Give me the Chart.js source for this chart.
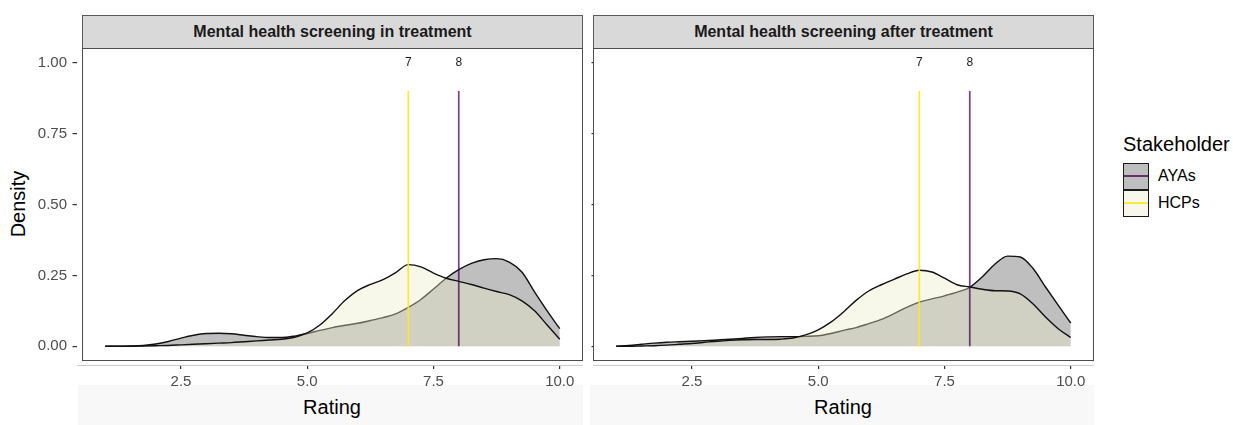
<!DOCTYPE html>
<html>
<head>
<meta charset="utf-8">
<script src="https://cdn.jsdelivr.net/npm/chart.js@4.4.1/dist/chart.umd.min.js"></script>
<style>
  body { margin: 0; background: #fff; font-family: "Liberation Sans", Arial, sans-serif; }
  #wrap { position: relative; width: 1233px; height: 425px; overflow: hidden; }
  .abs { position: absolute; }
  .band { background: #f8f8f8; top: 385px; height: 40px; }
  .strip { top: 15px; height: 34px; width: 501px; box-sizing: border-box; background: #d9d9d9;
           border: 1px solid #595959; font-weight: bold; font-size: 16px; color: #1a1a1a;
           text-align: center; line-height: 32px; }
  .panel { top: 48px; height: 313px; width: 501px; box-sizing: border-box; border: 1px solid #4d4d4d;
           pointer-events: none; z-index: 3; }
  .title { font-size: 20px; color: #000; white-space: nowrap; }
  canvas { position: absolute; top: 0; z-index: 2; }
  .key { left: 1123px; width: 26px; height: 27px; box-sizing: border-box; border: 1.5px solid #1a1a1a; }
  .key i { position: absolute; left: 0; right: 0; top: 11px; height: 2px; }
  .lab { left: 1158px; font-size: 16px; color: #000; }
</style>
</head>
<body>
<div id="wrap">
  <div class="abs band" style="left:78px;width:505px"></div>
  <div class="abs band" style="left:590px;width:504px"></div>

  <div class="abs strip" style="left:82px">Mental health screening in treatment</div>
  <div class="abs strip" style="left:593px">Mental health screening after treatment</div>

  <canvas id="chartIn" width="590" height="425" style="left:0"></canvas>
  <canvas id="chartAfter" width="540" height="425" style="left:560px"></canvas>

  <div class="abs panel" style="left:82px"></div>
  <div class="abs panel" style="left:593px"></div>

  <div class="abs title" style="left:332px;top:407px;transform:translate(-50%,-50%)">Rating</div>
  <div class="abs title" style="left:843px;top:407px;transform:translate(-50%,-50%)">Rating</div>
  <div class="abs title" style="left:18px;top:204px;transform:translate(-50%,-50%) rotate(-90deg)">Density</div>

  <div class="abs title" style="left:1123px;top:133px">Stakeholder</div>
  <div class="abs key" style="top:163px;background:#bebebe"><i style="background:rgba(68,1,84,0.75)"></i></div>
  <div class="abs key" style="top:190px;background:#f8f8ea"><i style="background:rgba(253,231,37,0.9)"></i></div>
  <div class="abs lab" style="top:167px">AYAs</div>
  <div class="abs lab" style="top:194px">HCPs</div>
</div>

<script>
// rating grid the densities are read on
const ratingGrid = [1, 1.25, 1.5, 1.75, 2, 2.25, 2.5, 2.75, 3, 3.25, 3.5, 3.75, 4, 4.25, 4.5, 4.75,
  5, 5.25, 5.5, 5.75, 6, 6.25, 6.5, 6.75, 7, 7.25, 7.5, 7.75, 8, 8.25, 8.5, 8.75, 9, 9.25, 9.5, 9.75, 10];

// densities, screening in treatment
const inTreatmentAYAs = [0, 0, 0.001, 0.003, 0.008, 0.017, 0.029, 0.039, 0.045, 0.046, 0.044, 0.039, 0.034,
  0.031, 0.031, 0.036, 0.045, 0.056, 0.066, 0.074, 0.081, 0.091, 0.101, 0.114, 0.137, 0.165, 0.202, 0.240,
  0.270, 0.292, 0.305, 0.309, 0.297, 0.262, 0.192, 0.125, 0.062];
const inTreatmentHCPs = [0, 0, 0, 0.001, 0.002, 0.003, 0.005, 0.007, 0.009, 0.011, 0.013, 0.016, 0.019,
  0.022, 0.025, 0.032, 0.047, 0.075, 0.116, 0.162, 0.197, 0.218, 0.235, 0.260, 0.288, 0.280, 0.258, 0.240,
  0.229, 0.218, 0.205, 0.193, 0.182, 0.160, 0.125, 0.075, 0.025];

// densities, screening after treatment
const afterTreatmentAYAs = [0, 0.003, 0.007, 0.011, 0.014, 0.016, 0.018, 0.020, 0.022, 0.025, 0.028, 0.031,
  0.033, 0.034, 0.034, 0.035, 0.037, 0.045, 0.056, 0.066, 0.080, 0.095, 0.115, 0.137, 0.156, 0.167, 0.178,
  0.191, 0.208, 0.245, 0.290, 0.318, 0.315, 0.275, 0.209, 0.145, 0.082];
const afterTreatmentHCPs = [0, 0, 0.001, 0.002, 0.004, 0.007, 0.010, 0.014, 0.018, 0.021, 0.023, 0.024,
  0.024, 0.025, 0.029, 0.040, 0.058, 0.085, 0.121, 0.162, 0.195, 0.217, 0.236, 0.255, 0.268, 0.262, 0.240,
  0.217, 0.209, 0.201, 0.196, 0.195, 0.185, 0.150, 0.103, 0.062, 0.031];

// median ratings drawn as vertical lines
const medianAYAs = 8;
const medianHCPs = 7;
const medianLineTop = 0.9;
const medianLabelAt = 1.0;

const xTicks = [2.5, 5, 7.5, 10];
const yTicks = [0, 0.25, 0.5, 0.75, 1];

const FONT = '"Liberation Sans", Arial, sans-serif';
const AYA_FILL = 'rgba(128,128,128,0.5)';
const HCP_FILL = 'rgba(237,237,200,0.39)';
const AYA_LINE = 'rgba(68,1,84,0.75)';
const HCP_LINE = 'rgba(253,231,37,0.9)';

const medianLabels = {
  id: 'medianLabels',
  afterDatasetsDraw(chart, args, opts) {
    const ctx = chart.ctx, x = chart.scales.x, y = chart.scales.y;
    ctx.save();
    ctx.font = '12px ' + FONT;
    ctx.fillStyle = '#1a1a1a';
    ctx.textAlign = 'center';
    ctx.textBaseline = 'middle';
    opts.values.forEach(function (v) {
      ctx.fillText(String(v), x.getPixelForValue(v), y.getPixelForValue(medianLabelAt));
    });
    ctx.restore();
  }
};

function pts(arr) {
  return ratingGrid.map(function (r, i) { return { x: r, y: arr[i] }; });
}

function densityChart(id, ayas, hcps, opt) {
  return new Chart(document.getElementById(id).getContext('2d'), {
    type: 'line',
    data: {
      datasets: [
        { label: 'AYAs', data: pts(ayas), order: 3, fill: 'origin',
          backgroundColor: AYA_FILL, borderColor: '#111', borderWidth: 1.4,
          cubicInterpolationMode: 'monotone', pointRadius: 0 },
        { label: 'HCPs', data: pts(hcps), order: 2, fill: 'origin',
          backgroundColor: HCP_FILL, borderColor: '#111', borderWidth: 1.4,
          cubicInterpolationMode: 'monotone', pointRadius: 0 },
        { label: 'HCPs median', data: [{ x: medianHCPs, y: 0 }, { x: medianHCPs, y: medianLineTop }],
          order: 1, fill: false, borderColor: HCP_LINE, borderWidth: 1.7, pointRadius: 0 },
        { label: 'AYAs median', data: [{ x: medianAYAs, y: 0 }, { x: medianAYAs, y: medianLineTop }],
          order: 0, fill: false, borderColor: AYA_LINE, borderWidth: 1.7, pointRadius: 0 }
      ]
    },
    options: {
      responsive: false,
      animation: false,
      layout: { padding: { left: 0, right: opt.padRight, top: 48.5, bottom: 0 } },
      plugins: {
        legend: { display: false },
        tooltip: { enabled: false },
        medianLabels: { values: [medianHCPs, medianAYAs] }
      },
      scales: {
        x: {
          type: 'linear',
          min: opt.xMin,
          max: 10.45,
          afterBuildTicks: function (s) { s.ticks = xTicks.map(function (v) { return { value: v }; }); },
          afterFit: function (s) { s.height = 60; s.paddingLeft = 0; s.paddingRight = 0; },
          ticks: {
            padding: 4,
            color: '#4d4d4d',
            font: { family: FONT, size: 15 },
            maxRotation: 0,
            callback: function (v) { return Number(v).toFixed(1); }
          },
          grid: { drawOnChartArea: false, drawTicks: true, tickLength: 4, color: '#333', lineWidth: 1.2 },
          border: { display: true, color: '#cccccc', width: 1 }
        },
        y: {
          type: 'linear',
          min: -0.066,
          max: 1.05,
          afterBuildTicks: function (s) { s.ticks = yTicks.map(function (v) { return { value: v }; }); },
          afterFit: function (s) { s.width = opt.yWidth; s.paddingTop = 0; s.paddingBottom = 0; },
          ticks: {
            display: opt.yLabels,
            padding: 5.5,
            color: '#4d4d4d',
            font: { family: FONT, size: 15 },
            callback: function (v) { return Number(v).toFixed(2); }
          },
          grid: { drawOnChartArea: false, drawTicks: true, tickLength: opt.yTickLen, color: '#333', lineWidth: 1.2 },
          border: { display: false }
        }
      }
    },
    plugins: [medianLabels]
  });
}

densityChart('chartIn', inTreatmentAYAs, inTreatmentHCPs,
  { xMin: 0.441, yWidth: 77, padRight: 7.5, yLabels: true, yTickLen: 4.5 });
densityChart('chartAfter', afterTreatmentAYAs, afterTreatmentHCPs,
  { xMin: 0.55, yWidth: 33.5, padRight: 6.5, yLabels: false, yTickLen: 2 });
</script>
</body>
</html>
